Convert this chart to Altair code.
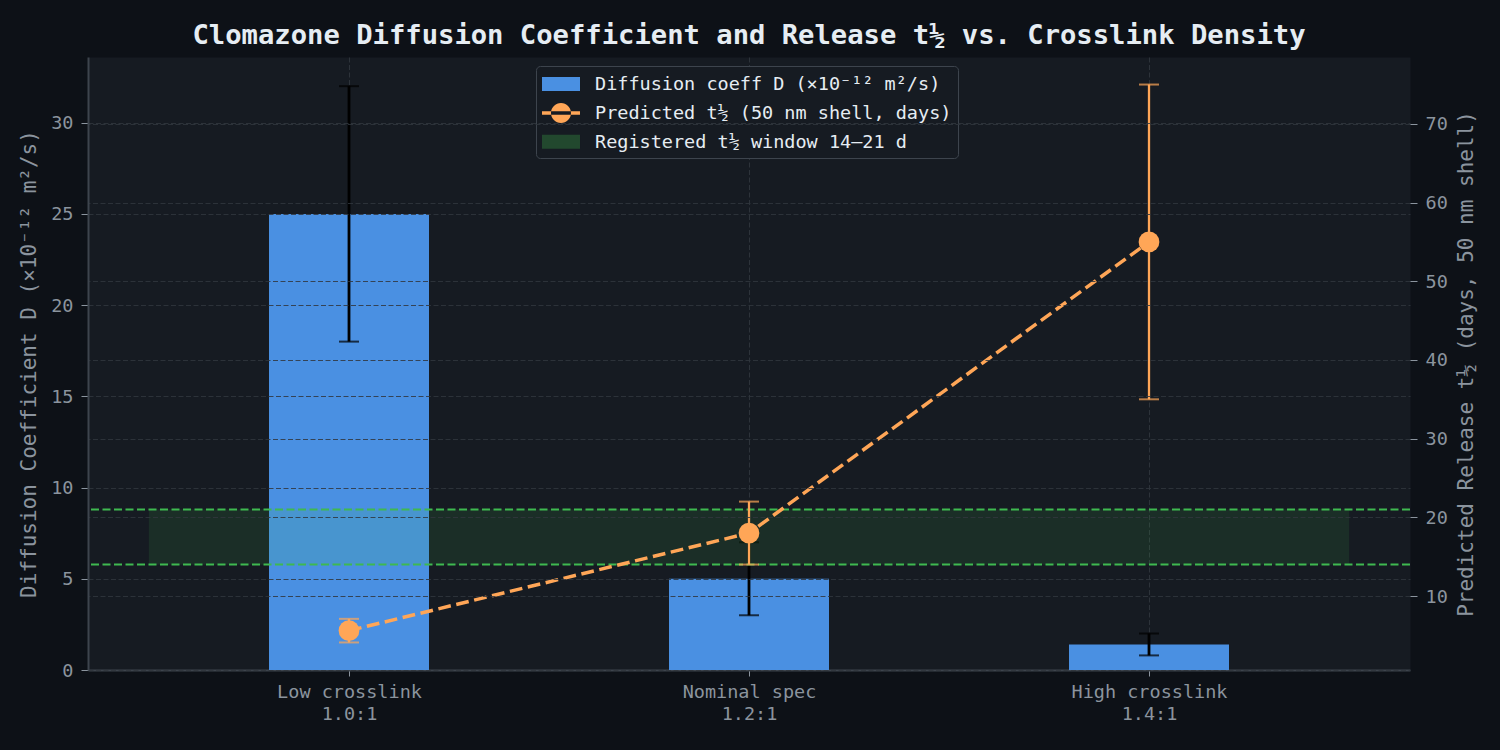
import json
import altair as alt
import pandas as pd

# ---------------- data ----------------
categories = ["Low crosslink\n1.0:1", "Nominal spec\n1.2:1", "High crosslink\n1.4:1"]
positions = [0, 1, 2]
diff_coeff = [25.0, 5.0, 1.4]
diff_err = [7.0, 2.0, 0.6]
t_half = [5.6, 18.0, 55.0]
t_half_err = [1.5, 4.0, 20.0]
window_days = [14, 21]
window_x = [-0.5, 2.5]
left_ticks = [0, 5, 10, 15, 20, 25, 30]
right_ticks = [10, 20, 30, 40, 50, 60, 70]
series = [
    "Diffusion coeff D (×10⁻¹² m²/s)",
    "Predicted t½ (50 nm shell, days)",
    "Registered t½ window 14–21 d",
]

FONT = "DejaVu Sans Mono"
BLUE = "#4a90e2"
ORANGE = "#ffa657"
GREEN = "#3fb950"
LEG_GREEN = "#22482e"
TXT = "#e6edf3"
GRAY = "#8b949e"
SPINE = "#3d444d"
GRID = "#30363d"

df = pd.DataFrame({
    "x": positions,
    "cat": categories,
    "D": diff_coeff,
    "D_lo": [v - e for v, e in zip(diff_coeff, diff_err)],
    "D_hi": [v + e for v, e in zip(diff_coeff, diff_err)],
    "t": t_half,
    "t_lo": [v - e for v, e in zip(t_half, t_half_err)],
    "t_hi": [v + e for v, e in zip(t_half, t_half_err)],
})
band_df = pd.DataFrame({"x0": [window_x[0]], "x1": [window_x[1]],
                        "y0": [window_days[0]], "y1": [window_days[1]]})
rule_df = pd.DataFrame({"w": window_days})
legend_df = pd.DataFrame({"series": series, "x": [1, 1, 1], "y": [-1000, -1000, -1000]})

# ---------------- scales / axes ----------------
xscale = alt.Scale(domain=[-0.6525, 2.6525], nice=False, zero=False, padding=0)
lscale = alt.Scale(domain=[0, 33.6], nice=False, zero=False, padding=0)
rscale = alt.Scale(domain=[0.6, 78.5], nice=False, zero=False, padding=0)

lines = [c.split("\n") for c in categories]
label_expr = (
    f"datum.value == {positions[0]} ? {json.dumps(lines[0], ensure_ascii=False)} : "
    f"datum.value == {positions[1]} ? {json.dumps(lines[1], ensure_ascii=False)} : "
    f"{json.dumps(lines[2], ensure_ascii=False)}"
)

xaxis = alt.Axis(values=positions, labelExpr=label_expr, title=None, grid=True,
                 gridColor=GRID, gridDash=[5, 2.5], gridWidth=1, gridOpacity=0.9,
                 domainColor=SPINE, domainWidth=2, tickColor=GRAY, tickSize=6,
                 labelFont=FONT, labelFontSize=18.5, labelColor=GRAY,
                 labelLineHeight=22, labelPadding=6, zindex=0)

left_title = "Diffusion Coefficient D  (×10⁻¹² m²/s)"
right_title = "Predicted Release t½ (days, 50 nm shell)"

laxis = alt.Axis(values=left_ticks, title=left_title, grid=True, gridColor=GRID,
                 gridDash=[5, 2.5], gridWidth=1, gridOpacity=0.85,
                 domainColor=SPINE, domainWidth=2, tickColor=GRAY, tickSize=7,
                 labelFont=FONT, labelFontSize=18.5, labelColor=GRAY, labelPadding=8,
                 titleFont=FONT, titleFontSize=21, titleFontWeight="normal",
                 titleColor=GRAY, titlePadding=11, zindex=1)
raxis = alt.Axis(orient="right", values=right_ticks, title=right_title, grid=True,
                 gridColor=GRID, gridDash=[5, 2.5], gridWidth=1, gridOpacity=0.85,
                 domain=False, tickColor=GRAY, tickSize=7,
                 labelFont=FONT, labelFontSize=18.5, labelColor=GRAY, labelPadding=8,
                 titleFont=FONT, titleFontSize=21, titleFontWeight="normal",
                 titleColor=GRAY, titlePadding=8, titleAngle=270, titleBaseline="top",
                 zindex=1)

X = alt.X("x:Q", scale=xscale, axis=xaxis)

# ---------------- left (D) layers ----------------
bars = alt.Chart(df).mark_bar(size=160, color=BLUE).encode(
    x=X, y=alt.Y("D:Q", scale=lscale, axis=laxis))
d_err = alt.Chart(df).mark_rule(color="black", strokeWidth=2.8).encode(
    x=X, y=alt.Y("D_lo:Q", scale=lscale, axis=laxis), y2="D_hi:Q")
d_caps = alt.Chart(df).transform_fold(["D_lo", "D_hi"], as_=["k", "v"]).mark_tick(
    orient="horizontal", color="black", size=20, thickness=2).encode(
    x=X, y=alt.Y("v:Q", scale=lscale, axis=laxis))
left = alt.layer(bars, d_err, d_caps)

# ---------------- right (t½) layers ----------------
band = alt.Chart(band_df).mark_rect(color=GREEN, opacity=0.12, stroke=GREEN,
                                    strokeOpacity=0.25, strokeWidth=1).encode(
    x=alt.X("x0:Q", scale=xscale, axis=xaxis), x2="x1:Q",
    y=alt.Y("y0:Q", scale=rscale, axis=raxis), y2="y1:Q")
wrules = alt.Chart(rule_df).mark_rule(color=GREEN, strokeWidth=2,
                                      strokeDash=[8, 3.5]).encode(
    y=alt.Y("w:Q", scale=rscale, axis=raxis))
t_line = alt.Chart(df).mark_line(color=ORANGE, strokeWidth=3.5,
                                 strokeDash=[12.8, 5.6]).encode(
    x=X, y=alt.Y("t:Q", scale=rscale, axis=raxis))
t_err = alt.Chart(df).mark_rule(color=ORANGE, strokeWidth=2.3).encode(
    x=X, y=alt.Y("t_lo:Q", scale=rscale, axis=raxis), y2="t_hi:Q")
t_caps = alt.Chart(df).transform_fold(["t_lo", "t_hi"], as_=["k", "v"]).mark_tick(
    orient="horizontal", color=ORANGE, size=20, thickness=2).encode(
    x=X, y=alt.Y("v:Q", scale=rscale, axis=raxis))
t_pts = alt.Chart(df).mark_circle(size=430, color=ORANGE, opacity=1).encode(
    x=X, y=alt.Y("t:Q", scale=rscale, axis=raxis))

# legend (hidden points, clipped away; only the legend is visible)
rect_path = "M-1,-0.583H2.167V0.583H-1Z"
line_path = ("M-1,-0.146H2.167V0.146H-1Z "
             "M-0.25,0A0.833,0.833 0 1,0 1.416,0A0.833,0.833 0 1,0 -0.25,0Z")
leg = alt.Legend(title=None, orient="none", legendX=448, legendY=9,
                 labelFont=FONT, labelFontSize=18.5, labelColor=TXT, labelLimit=0,
                 fillColor="#161b22", strokeColor=SPINE, cornerRadius=4,
                 padding=6, symbolSize=576, symbolStrokeWidth=0,
                 labelOffset=29, rowPadding=6.9, symbolOpacity=1)
legend_layer = alt.Chart(legend_df).mark_point(filled=True, clip=True, opacity=1).encode(
    x=X, y=alt.Y("y:Q", scale=rscale, axis=raxis),
    color=alt.Color("series:N", scale=alt.Scale(domain=series,
                    range=[BLUE, ORANGE, LEG_GREEN]), legend=leg),
    shape=alt.Shape("series:N", scale=alt.Scale(domain=series,
                    range=[rect_path, line_path, rect_path]), legend=leg),
)

right = alt.layer(band, wrules, t_err, t_caps, t_line, t_pts, legend_layer)

chart = alt.layer(left, right).resolve_scale(y="independent").properties(
    width=1322, height=613,
    padding={"left": 88, "top": 57, "right": 90, "bottom": 80},
    autosize=alt.AutoSizeParams(type="none"),
    title=alt.Title("Clomazone Diffusion Coefficient and Release t½ vs. Crosslink Density",
                    font=FONT, fontSize=27.2, fontWeight="bold", color=TXT,
                    anchor="middle", frame="group", offset=7),
).configure(background="#0d1117").configure_view(fill="#161b22", strokeOpacity=0)

chart.save("out.html", embed_options={"renderer": "svg", "actions": False})
